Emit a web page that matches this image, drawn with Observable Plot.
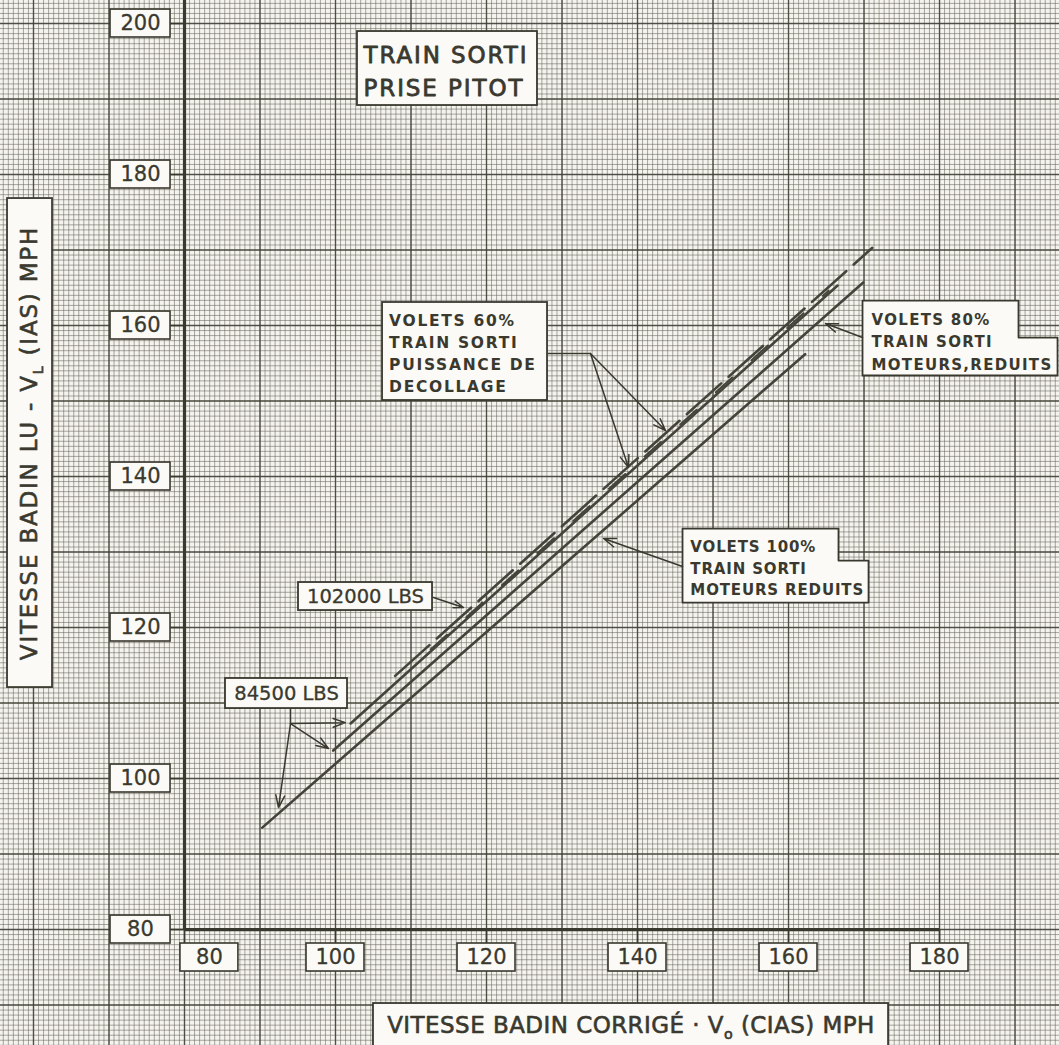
<!DOCTYPE html>
<html>
<head>
<meta charset="utf-8">
<script src="https://cdn.jsdelivr.net/npm/d3@7"></script>
<script src="https://cdn.jsdelivr.net/npm/@observablehq/plot@0.6"></script>
<style>
html, body { margin: 0; padding: 0; background: #f4f3ee; }
#chart svg { display: block; }
</style>
</head>
<body>
<div id="chart"></div>
<script>
// ---------------- DATA ----------------
// Tick values of both axes (MPH)
const xTicks = [80, 100, 120, 140, 160, 180];
const yTicks = [80, 100, 120, 140, 160, 180, 200];

// Calibration lines: corrected airspeed (CIAS) vs. indicated airspeed (IAS), start & end points
const curveIds   = ["tirets-1", "tirets-2", "trait-1", "trait-2", "trait-3"];
const curveStyle = ["tirets", "tirets-fin", "plein", "plein", "plein"];
const ciasStart  = [107.9, 112.6, 102.0,  99.7,  90.3];
const iasStart   = [113.6, 117.1, 107.3, 103.7,  93.5];
const ciasEnd    = [171.1, 165.3, 166.5, 169.9, 162.2];
const iasEnd     = [170.3, 164.6, 165.3, 165.7, 156.2];

// Texts
const xTitle = "VITESSE BADIN CORRIGÉ · Vo (CIAS) MPH";
const yTitle = "VITESSE BADIN LU - VL (IAS) MPH";
const noteTrain = "TRAIN SORTI\nPRISE PITOT";
const note60  = "VOLETS 60%\nTRAIN SORTI\nPUISSANCE DE\nDECOLLAGE";
const note80  = "VOLETS 80%\nTRAIN SORTI\nMOTEURS,REDUITS";
const note100 = "VOLETS 100%\nTRAIN SORTI\nMOTEURS REDUITS";
const noteW1 = "102000 LBS";
const noteW2 = "84500 LBS";

// ---------------- BUILD ----------------
const curves = curveIds.flatMap((id, i) => [
  {id, style: curveStyle[i], cias: ciasStart[i], ias: iasStart[i]},
  {id, style: curveStyle[i], cias: ciasEnd[i],   ias: iasEnd[i]}
]);

const W = 1059, H = 1045;
const xDom = [55.63, 195.89];
const yDom = [64.64, 203.05];

const ink = "#3a392f";
const lineInk = "#45443a";
const paper = "#fbfaf6";

// graph paper grid (every 2/3 unit fine, every 10 units darker)
const fineX = d3.range(-40, 180).map(k => 80 + k * 2 / 3).filter(v => v > xDom[0] && v < xDom[1]);
const fineY = d3.range(-30, 200).map(k => 80 + k * 2 / 3).filter(v => v > yDom[0] && v < yDom[1]);
const majX = d3.range(60, 200, 10);
const majY = d3.range(70, 210, 10);

const xLabelPos = d => d === xTicks[0] ? d + 3.3 : d;

const box = (x1, x2, y1, y2) => ({x1, x2, y1, y2});
const rectBoxes = [
  box(102.91, 126.75, 189.14, 198.94),   // TRAIN SORTI
  box(106.23, 128.08, 150.07, 163.05),   // VOLETS 60%
  box(95.10, 112.85, 122.25, 125.96),    // 102000 LBS
  box(85.43, 101.59, 109.27, 113.25),    // 84500 LBS
  box(56.56, 62.52, 112.05, 176.82),     // y title
  box(105.03, 173.25, 63.5, 70.20)       // x title
];
const notch80 = [[169.80,163.31],[190.46,163.31],[190.46,158.41],[195.63,158.41],[195.63,153.38],[169.80,153.38],[169.80,163.31]]
  .map(([x, y]) => ({x, y}));
const notch100 = [[145.96,133.11],[166.62,133.11],[166.62,128.87],[170.60,128.87],[170.60,123.31],[145.96,123.31],[145.96,133.11]]
  .map(([x, y]) => ({x, y}));

const links = [
  {x1: 128.08, y1: 156.29, x2: 133.77, y2: 156.29},
  {x1: 94.04, y1: 109.27, x2: 94.04, y2: 107.28}
];
const arrows = [
  {x1: 133.77, y1: 156.29, x2: 143.71, y2: 146.09},
  {x1: 133.77, y1: 156.29, x2: 138.81, y2: 141.19},
  {x1: 112.98, y1: 123.97, x2: 116.95, y2: 122.65},
  {x1: 94.04, y1: 107.28, x2: 101.30, y2: 107.40},
  {x1: 94.04, y1: 107.28, x2: 99.07, y2: 103.97},
  {x1: 94.04, y1: 107.28, x2: 92.45, y2: 96.16},
  {x1: 169.80, y1: 158.41, x2: 164.90, y2: 160.26},
  {x1: 145.96, y1: 128.08, x2: 135.50, y2: 131.79}
];

const noteFont = {fontFamily: "DejaVu Sans", fontWeight: "bold", fill: ink, textAnchor: "start"};

const chart = Plot.plot({
  width: W, height: H, margin: 0,
  x: {domain: xDom, range: [0, W], axis: null},
  y: {domain: yDom, range: [H, 0], axis: null},
  style: {background: "#f4f3ee", fontFamily: "DejaVu Sans", color: ink},
  marks: [
    // graph paper
    Plot.ruleX(fineX, {stroke: "#5f5e52", strokeOpacity: 0.62, strokeWidth: 0.85}),
    Plot.ruleY(fineY, {stroke: "#5f5e52", strokeOpacity: 0.62, strokeWidth: 0.85}),
    Plot.ruleX(majX, {stroke: "#403f35", strokeOpacity: 0.85, strokeWidth: 1.4}),
    Plot.ruleY(majY, {stroke: "#403f35", strokeOpacity: 0.85, strokeWidth: 1.4}),

    // axes
    Plot.ruleX([xTicks[0]], {y1: yTicks[0], y2: yDom[1], stroke: ink, strokeWidth: 3.2}),
    Plot.ruleY([yTicks[0]], {x1: xTicks[0], x2: xTicks[xTicks.length - 1], stroke: ink, strokeWidth: 3.2}),
    Plot.ruleY(yTicks, {x1: 78.15, x2: 80, stroke: ink, strokeWidth: 1.6}),
    Plot.ruleX(xTicks, {y1: 78.15, y2: 80, stroke: ink, strokeWidth: 1.6}),

    // tick label boxes
    Plot.rect(yTicks, {x1: 70.2, x2: 78.15, y1: d => d - 1.85, y2: d => d + 1.85, fill: paper, stroke: ink, strokeWidth: 1.6}),
    Plot.text(yTicks, {x: 74.17, y: d => d, text: d => String(d), fontSize: 21, fill: ink, stroke: ink, strokeWidth: 0.3}),
    Plot.rect(xTicks, {x1: d => xLabelPos(d) - 3.84, x2: d => xLabelPos(d) + 3.84, y1: 74.44, y2: 78.15, fill: paper, stroke: ink, strokeWidth: 1.6}),
    Plot.text(xTicks, {x: d => xLabelPos(d), y: 76.29, text: d => String(d), fontSize: 21, fill: ink, stroke: ink, strokeWidth: 0.3}),

    // calibration lines
    Plot.line(curves.filter(d => d.style === "plein"), {x: "cias", y: "ias", z: "id", stroke: lineInk, strokeWidth: 2.6}),
    Plot.line(curves.filter(d => d.style === "tirets"), {x: "cias", y: "ias", z: "id", stroke: lineInk, strokeWidth: 2.6, strokeDasharray: "46,10"}),
    Plot.line(curves.filter(d => d.style === "tirets-fin"), {x: "cias", y: "ias", z: "id", stroke: lineInk, strokeWidth: 2, strokeDasharray: "22,26"}),

    // annotation boxes
    Plot.rect(rectBoxes, {x1: "x1", x2: "x2", y1: "y1", y2: "y2", fill: paper, stroke: ink, strokeWidth: 1.8}),
    Plot.line(notch80, {x: "x", y: "y", fill: paper, stroke: ink, strokeWidth: 1.8}),
    Plot.line(notch100, {x: "x", y: "y", fill: paper, stroke: ink, strokeWidth: 1.8}),

    // leaders & arrows
    Plot.link(links, {x1: "x1", y1: "y1", x2: "x2", y2: "y2", stroke: ink, strokeWidth: 1.5}),
    Plot.arrow(arrows, {x1: "x1", y1: "y1", x2: "x2", y2: "y2", stroke: ink, strokeWidth: 1.5, headLength: 13, headAngle: 40}),

    // annotation texts
    Plot.text([noteTrain], {x: 103.71, y: 193.97, text: d => d, fontSize: 23, lineHeight: 1.42, ...noteFont, fontWeight: "normal", stroke: ink, strokeWidth: 0.8}),
    Plot.text([note60], {x: 107.1, y: 156.49, text: d => d, fontSize: 15.5, lineHeight: 1.42, ...noteFont}),
    Plot.text([note80], {x: 171.0, y: 158.08, text: d => d, fontSize: 15, lineHeight: 1.5, ...noteFont}),
    Plot.text([note100], {x: 147.0, y: 128.01, text: d => d, fontSize: 15, lineHeight: 1.43, ...noteFont}),
    Plot.text([noteW1], {x: 103.97, y: 124.11, text: d => d, fontSize: 19.5, fill: ink, stroke: ink, strokeWidth: 0.3}),
    Plot.text([noteW2], {x: 93.51, y: 111.26, text: d => d, fontSize: 19.5, fill: ink, stroke: ink, strokeWidth: 0.3}),

    // axis titles
    Plot.text([yTitle], {x: 59.54, y: 144.44, text: d => d, rotate: -90, fontSize: 23, fill: ink, stroke: ink, strokeWidth: 0.6}),
    Plot.text([xTitle], {x: 139.14, y: 67.28, text: d => d, fontSize: 23, fill: ink, stroke: ink, strokeWidth: 0.6})
  ]
});

// subscripts in the axis titles (V_L and V_o) and hand-lettering spacing
function subscript(el, before, sub, after) {
  const t = d3.select(el);
  t.text(null);
  t.append("tspan").text(before);
  t.append("tspan").attr("dy", 6).attr("font-size", "0.62em").text(sub);
  t.append("tspan").attr("dy", -6).text(after);
}
const spacing = new Map([
  [noteTrain, 1.9], [note60, 1.7], [note80, 1.3], [note100, 0.85],
  [yTitle, 1.8], [xTitle, 0.45]
].map(([t, s]) => [t.replace(/\n/g, ""), s]));
d3.select(chart).selectAll("text").each(function () {
  const content = this.textContent;
  if (spacing.has(content)) this.setAttribute("letter-spacing", spacing.get(content));
  if (content === yTitle) subscript(this, "VITESSE BADIN LU - V", "L", " (IAS) MPH");
  else if (content === xTitle) subscript(this, "VITESSE BADIN CORRIGÉ · V", "o", " (CIAS) MPH");
});

document.getElementById("chart").appendChild(chart);
</script>
</body>
</html>
